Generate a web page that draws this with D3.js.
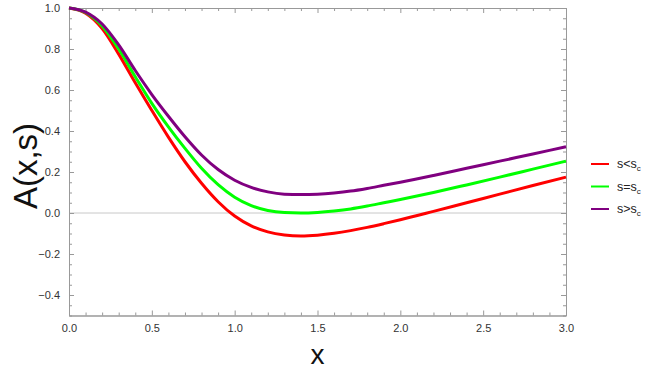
<!DOCTYPE html>
<html>
<head>
<meta charset="utf-8">
<script src="https://cdn.jsdelivr.net/npm/d3@7"></script>
<style>
  body { margin: 0; background: #fff; }
  svg { display: block; font-family: "Liberation Sans", Arial, sans-serif; }
  .frame .domain { stroke: #999; }
  .frame line { stroke: #999; }
  .frame text { fill: #333; font-size: 11px; }
</style>
</head>
<body>
<svg id="chart" width="649" height="375"></svg>
<script>
var xs = [0, 0.1, 0.2, 0.3, 0.4, 0.5, 0.6, 0.7, 0.8, 0.9, 1.0, 1.1, 1.2, 1.3, 1.4,
          1.5, 1.6, 1.7, 1.8, 1.9, 2.0, 2.2, 2.4, 2.6, 2.8, 3.0];
var sLess = [1.0, 0.975, 0.9, 0.775, 0.635, 0.5, 0.37, 0.25, 0.145, 0.055, -0.015, -0.063, -0.092, -0.107, -0.112,
             -0.108, -0.099, -0.086, -0.07, -0.052, -0.033, 0.008, 0.05, 0.092, 0.134, 0.175];
var sEqual = [1.0, 0.978, 0.912, 0.8, 0.665, 0.535, 0.42, 0.315, 0.218, 0.138, 0.077, 0.036, 0.012, 0.002, 0.0,
              0.003, 0.01, 0.02, 0.034, 0.05, 0.066, 0.1, 0.137, 0.175, 0.214, 0.253];
var sMore = [1.0, 0.98, 0.922, 0.82, 0.695, 0.578, 0.472, 0.372, 0.283, 0.212, 0.16, 0.125, 0.103, 0.092, 0.09,
             0.092, 0.098, 0.107, 0.12, 0.135, 0.15, 0.183, 0.218, 0.253, 0.288, 0.323];

var series = [
  { name: "s<", values: sLess, color: "#ff0000" },
  { name: "s=", values: sEqual, color: "#00ff00" },
  { name: "s>", values: sMore, color: "#800080" }
];

var xTicks = [0, 0.5, 1.0, 1.5, 2.0, 2.5, 3.0];
var yTicks = [-0.4, -0.2, 0.0, 0.2, 0.4, 0.6, 0.8, 1.0];

var svg = d3.select("#chart"),
    margin = { top: 8, right: 83, bottom: 59.5, left: 69 },
    width = +svg.attr("width") - margin.left - margin.right,
    height = +svg.attr("height") - margin.top - margin.bottom;

var x = d3.scaleLinear().domain([0, 3]).range([0, width]);
var y = d3.scaleLinear().domain([-0.5, 1.0]).range([height, 0]);

var g = svg.append("g")
    .attr("transform", "translate(" + margin.left + "," + margin.top + ")");

// zero line
g.append("line")
    .attr("x1", 0).attr("x2", width)
    .attr("y1", y(0)).attr("y2", y(0))
    .attr("stroke", "#c8c8c8");

var fmt = d3.format(".1f");
var xMinor = d3.range(0, 3.001, 0.1).filter(function (d) { return Math.abs(d * 2 - Math.round(d * 2)) > 1e-6; });
var yMinor = d3.range(-0.5, 1.001, 0.05).filter(function (d) { return Math.abs(d * 5 - Math.round(d * 5)) > 1e-6; });

// bottom
g.append("g").attr("class", "frame")
    .attr("transform", "translate(0," + height + ")")
    .call(d3.axisBottom(x).tickValues(xTicks).tickFormat(fmt).tickSizeInner(-5).tickSizeOuter(0).tickPadding(9));
g.append("g").attr("class", "frame")
    .attr("transform", "translate(0," + height + ")")
    .call(d3.axisBottom(x).tickValues(xMinor).tickFormat("").tickSizeInner(-3).tickSizeOuter(0));
// top
g.append("g").attr("class", "frame")
    .call(d3.axisTop(x).tickValues(xTicks).tickFormat("").tickSizeInner(-5).tickSizeOuter(0));
g.append("g").attr("class", "frame")
    .call(d3.axisTop(x).tickValues(xMinor).tickFormat("").tickSizeInner(-3).tickSizeOuter(0));
// left
g.append("g").attr("class", "frame")
    .call(d3.axisLeft(y).tickValues(yTicks).tickFormat(fmt).tickSizeInner(-5).tickSizeOuter(0).tickPadding(9));
g.append("g").attr("class", "frame")
    .call(d3.axisLeft(y).tickValues(yMinor).tickFormat("").tickSizeInner(-3).tickSizeOuter(0));
// right
g.append("g").attr("class", "frame")
    .attr("transform", "translate(" + width + ",0)")
    .call(d3.axisRight(y).tickValues(yTicks).tickFormat("").tickSizeInner(-5).tickSizeOuter(0));
g.append("g").attr("class", "frame")
    .attr("transform", "translate(" + width + ",0)")
    .call(d3.axisRight(y).tickValues(yMinor).tickFormat("").tickSizeInner(-3).tickSizeOuter(0));

var line = d3.line()
    .x(function (d, i) { return x(xs[i]); })
    .y(function (d) { return y(d); })
    .curve(d3.curveMonotoneX);

g.selectAll(".curve")
    .data(series)
    .enter().append("path")
    .attr("class", "curve")
    .attr("fill", "none")
    .attr("stroke", function (d) { return d.color; })
    .attr("stroke-width", 3)
    .attr("d", function (d) { return line(d.values); });

// axis labels
svg.append("text")
    .attr("x", margin.left + x(1.5))
    .attr("y", 364)
    .attr("text-anchor", "middle")
    .attr("font-size", 28)
    .attr("fill", "#111")
    .text("x");

svg.append("text")
    .attr("transform", "translate(37,166) rotate(-90)")
    .attr("text-anchor", "middle")
    .attr("font-size", 33)
    .attr("fill", "#111")
    .text("A(x,s)");

// legend
var legend = svg.append("g").attr("transform", "translate(591,164)");
var item = legend.selectAll(".item")
    .data(series)
    .enter().append("g")
    .attr("class", "item")
    .attr("transform", function (d, i) { return "translate(0," + (i * 22.5) + ")"; });
item.append("line")
    .attr("x1", 0).attr("x2", 18)
    .attr("stroke", function (d) { return d.color; })
    .attr("stroke-width", 2);
var t = item.append("text")
    .attr("x", 26).attr("y", 4)
    .attr("font-size", 12.5)
    .attr("fill", "#222");
t.append("tspan").text(function (d) { return d.name + "s"; });
t.append("tspan").attr("font-size", 8).attr("dy", 3).text("c");
</script>
</body>
</html>
